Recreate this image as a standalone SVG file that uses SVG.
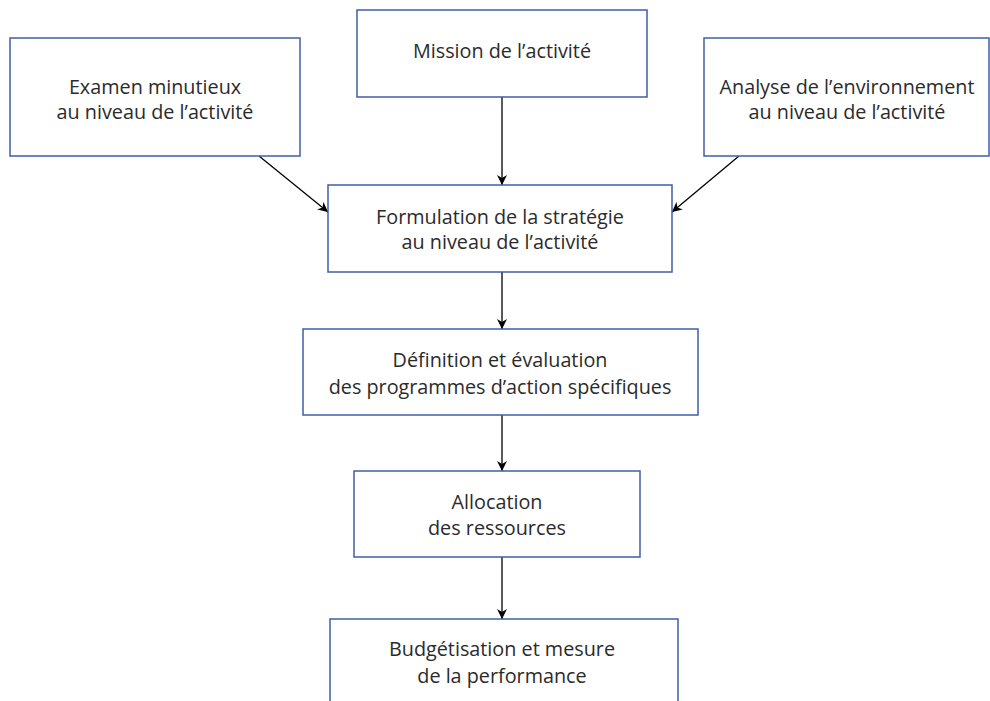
<svg xmlns="http://www.w3.org/2000/svg" width="990" height="701" viewBox="0 0 990 701">
<style>
.box{fill:#fff;stroke:#3f5da8;stroke-width:1.5}
.t{font-family:"Open Sans","Noto Sans",sans-serif;font-size:19.8px;fill:#2b2b2b;text-anchor:middle}
.c{stroke:#000;stroke-width:1.3;fill:none;marker-end:url(#ah)}
</style>
<defs>
<marker id="ah" viewBox="0 0 10 10" refX="10" refY="5" markerWidth="10" markerHeight="10" markerUnits="userSpaceOnUse" orient="auto">
<path d="M0,0 L10,5 L0,10 L3,5 Z" fill="#000"/>
</marker>
</defs>
<rect width="990" height="701" fill="#fff"/>
<g id="connectors">
<line class="c" x1="502" y1="97" x2="502" y2="185"/>
<line class="c" x1="259" y1="156" x2="328" y2="212"/>
<line class="c" x1="739" y1="156" x2="672" y2="212"/>
<line class="c" x1="502" y1="272" x2="502" y2="329"/>
<line class="c" x1="502" y1="415" x2="502" y2="471"/>
<line class="c" x1="502" y1="557" x2="502" y2="619"/>
</g>
<g id="examen">
<rect class="box" x="10" y="38" width="290" height="118"/>
<text class="t" x="155" y="94">Examen minutieux</text>
<text class="t" x="155" y="119">au niveau de l’activité</text>
</g>
<g id="mission">
<rect class="box" x="357" y="10" width="290" height="87"/>
<text class="t" x="502" y="58">Mission de l’activité</text>
</g>
<g id="analyse">
<rect class="box" x="704" y="38" width="285" height="118"/>
<text class="t" x="847" y="94">Analyse de l’environnement</text>
<text class="t" x="847" y="119">au niveau de l’activité</text>
</g>
<g id="formulation">
<rect class="box" x="328" y="185" width="344" height="87"/>
<text class="t" x="500" y="224">Formulation de la stratégie</text>
<text class="t" x="500" y="249">au niveau de l’activité</text>
</g>
<g id="definition">
<rect class="box" x="303" y="329" width="395" height="86"/>
<text class="t" x="500" y="367">Définition et évaluation</text>
<text class="t" x="500" y="394">des programmes d’action spécifiques</text>
</g>
<g id="allocation">
<rect class="box" x="354" y="471" width="286" height="86"/>
<text class="t" x="497" y="509">Allocation</text>
<text class="t" x="497" y="535">des ressources</text>
</g>
<g id="budgetisation">
<rect class="box" x="330" y="619" width="348" height="90"/>
<text class="t" x="502" y="656">Budgétisation et mesure</text>
<text class="t" x="502" y="683">de la performance</text>
</g>
</svg>
